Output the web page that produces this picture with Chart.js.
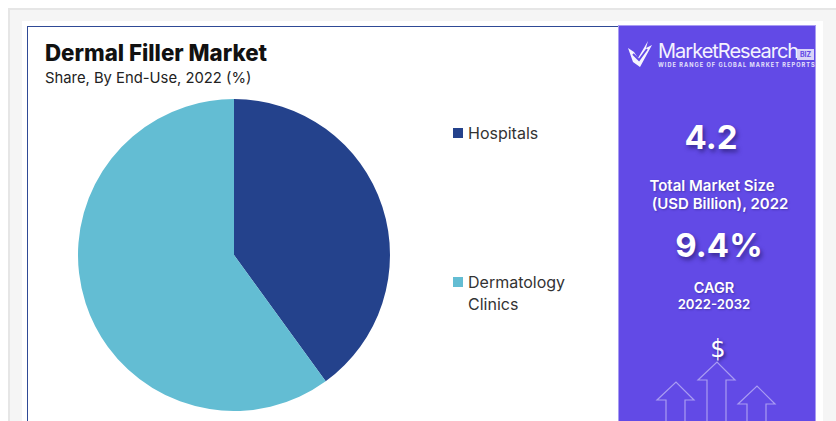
<!DOCTYPE html>
<html>
<head>
<meta charset="utf-8">
<script src="https://cdn.jsdelivr.net/npm/chart.js@4"></script>
<style>
html, body { margin: 0; padding: 0; background: #fff; }
body { width: 836px; height: 421px; overflow: hidden; position: relative; font-family: Inter, sans-serif; }
.abs { position: absolute; white-space: nowrap; }
#outer { position: absolute; left: 8px; top: 8px; width: 836px; height: 430px; background: #f5f5f5; border: 2px solid #e6e6e6; box-sizing: border-box; }
#card { position: absolute; left: 22px; top: 21px; width: 801px; height: 420px; background: #fff; }
#frame { position: absolute; left: 27px; top: 26px; width: 600px; height: 420px; border: 1px solid #2f4a96; box-sizing: border-box; }
#side { position: absolute; left: 618px; top: 25px; width: 198px; height: 400px; background: #624ae6; border: 1px solid #a99cf2; box-sizing: border-box; }
#title { left: 45px; top: 39px; font-size: 22.3px; font-weight: 800; color: #111; }
#subtitle { left: 45px; top: 69px; font-size: 14.8px; color: #222; }
#pieBox { position: absolute; left: 78px; top: 99px; width: 312px; height: 312px; }
.swatch { position: absolute; width: 10px; height: 10px; }
.legendText { font-size: 16px; line-height: 22px; color: #333; white-space: pre; }
.side { color: #fff; text-align: center; width: 198px; font-weight: 700; }
.big { font-size: 33px; text-shadow: 2px 3px 4px rgba(30,20,90,.6); }
.small { font-size: 15px; line-height: 18px; font-weight: 600; text-shadow: 1px 1px 2px rgba(30,20,90,.35); }
</style>
</head>
<body>
<div id="outer"></div>
<div id="card"></div>
<div id="frame"></div>
<div id="side"></div>

<div class="abs" id="title">Dermal Filler Market</div>
<div class="abs" id="subtitle">Share, By End-Use, 2022 (%)</div>

<div id="pieBox"><canvas id="pie" width="312" height="312"></canvas></div>
<div id="legend"></div>

<svg class="abs" style="left:627px;top:40px" width="26" height="28" viewBox="0 0 26 28">
  <path d="M1 8 L7 12 L11 18 L21 1 L19 8 L25 5 L13 27 L6 22 Z" fill="#f6f4fe"/>
  <path d="M6 14 L12 20 L20 9" fill="none" stroke="#624ae6" stroke-width="2"/>
</svg>
<div class="abs" style="left:658px;top:39px;font-size:20px;letter-spacing:-1px;color:#f4f2fe;">MarketResearch</div>
<div class="abs" style="left:797px;top:49px;width:17px;height:11px;background:#d9d4f8;color:#624ae6;font-size:7px;font-weight:700;line-height:11px;text-align:center;">BIZ</div>
<div class="abs" style="left:658px;top:62px;font-size:5.6px;font-weight:700;letter-spacing:1.03px;color:#e6e2fb;">WIDE RANGE OF GLOBAL MARKET REPORTS</div>

<div class="abs side big" style="top:117px;left:612px">4.2</div>
<div class="abs side small" style="top:177px;left:613px">Total Market Size</div>
<div class="abs side small" style="top:195px;left:621px">(USD Billion), 2022</div>
<div class="abs side big" style="top:225px;left:620px">9.4%</div>
<div class="abs side small" style="top:279px;left:615px;font-size:14.5px">CAGR</div>
<div class="abs side small" style="top:295px;left:615px;font-size:13.2px">2022-2032</div>

<div class="abs" style="left:619px;width:198px;top:335px;text-align:center;color:#fff;font-size:24px;font-family:'DejaVu Sans',sans-serif;text-shadow:2px 2px 3px rgba(30,20,90,.6)">$</div>
<svg class="abs" style="left:618px;top:360px" width="198" height="61" viewBox="0 0 198 61" fill="none" stroke="#a99cf2" stroke-width="1.2">
  <path d="M89 61 V20 H80 L99 2 L117 20 H108 V61"/>
  <path d="M48 61 V40 H39 L58 22 L76 40 H67 V61"/>
  <path d="M129 61 V44 H120 L139 26 L157 44 H148 V61"/>
</svg>

<script>
const categories = ["Hospitals", "Dermatology\nClinics"];
const shares = [40, 60];
const colors = ["#24428c", "#63bdd3"];

// legend sits far from the pie, so it is laid out by hand
const legendTops = [122, 271];
const legend = document.getElementById("legend");
categories.forEach(function (name, i) {
    const sw = document.createElement("div");
    sw.className = "swatch";
    sw.style.left = "453px";
    sw.style.top = (legendTops[i] + 6) + "px";
    sw.style.background = colors[i];
    legend.appendChild(sw);
    const t = document.createElement("div");
    t.className = "abs legendText";
    t.style.left = "468px";
    t.style.top = legendTops[i] + "px";
    t.textContent = name;
    legend.appendChild(t);
});

new Chart(document.getElementById("pie"), {
    type: "pie",
    data: {
        labels: categories.map(function (c) { return c.replace("\n", " "); }),
        datasets: [{
            data: shares,
            backgroundColor: colors,
            borderWidth: 0
        }]
    },
    options: {
        responsive: false,
        animation: false,
        layout: { padding: 0 },
        plugins: {
            legend: { display: false },
            tooltip: { enabled: false }
        }
    }
});
</script>
</body>
</html>
